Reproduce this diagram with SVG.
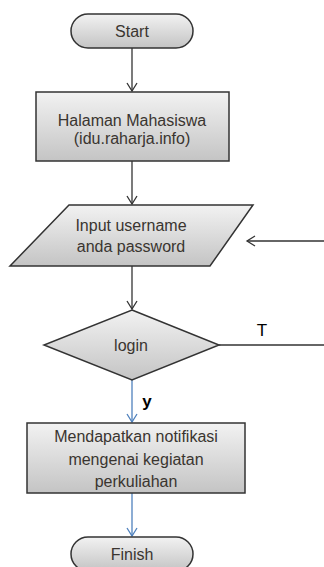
<svg xmlns="http://www.w3.org/2000/svg" width="324" height="567" viewBox="0 0 324 567">
<defs>
<linearGradient id="g" x1="0" y1="0" x2="0" y2="1">
<stop offset="0" stop-color="#f2f2f2"/>
<stop offset="1" stop-color="#c4c4c4"/>
</linearGradient>
<marker id="a" markerWidth="12" markerHeight="12" refX="10" refY="6" orient="auto" markerUnits="userSpaceOnUse" viewBox="0 0 12 12">
<path d="M2,1 L10,6 L2,11" fill="none" stroke="#333" stroke-width="1.3"/>
</marker>
<marker id="ab" markerWidth="12" markerHeight="12" refX="10" refY="6" orient="auto" markerUnits="userSpaceOnUse" viewBox="0 0 12 12">
<path d="M2,1 L10,6 L2,11" fill="none" stroke="#4f81bd" stroke-width="1.3"/>
</marker>
</defs>
<style>
.s{fill:url(#g);stroke:#333;stroke-width:1.5}
.t{font-family:"Liberation Sans",Arial,sans-serif;font-size:16px;fill:#3a3530;text-anchor:middle}
.l{fill:none;stroke:#333;stroke-width:1.3}
.b{fill:none;stroke:#4f81bd;stroke-width:1.3}
</style>
<g id="connectors">
<line class="l" x1="132" y1="48" x2="132" y2="91" marker-end="url(#a)"/>
<line class="l" x1="132" y1="161" x2="132" y2="204" marker-end="url(#a)"/>
<line class="l" x1="132" y1="266" x2="132" y2="309" marker-end="url(#a)"/>
<line class="l" x1="324" y1="241" x2="247" y2="241" marker-end="url(#a)"/>
<line class="l" x1="219" y1="345" x2="324" y2="345"/>
<line class="b" x1="132" y1="380" x2="132" y2="422" marker-end="url(#ab)"/>
<line class="b" x1="132" y1="493" x2="132" y2="536" marker-end="url(#ab)"/>
<text class="t" x="262" y="336" style="font-size:17px;fill:#000">T</text>
<text class="t" x="147" y="407" style="font-size:17px;font-weight:bold;fill:#000">y</text>
</g>
<g id="start">
<rect class="s" x="71" y="14" width="122" height="34" rx="17"/>
<text class="t" x="132" y="37">Start</text>
</g>
<g id="halaman">
<rect class="s" x="36" y="92" width="193" height="69"/>
<text class="t" x="132" y="126">Halaman Mahasiswa</text>
<text class="t" x="132" y="144">(idu.raharja.info)</text>
</g>
<g id="input">
<polygon class="s" points="69,205 253,205 210,266 10,266"/>
<text class="t" x="131" y="231">Input username</text>
<text class="t" x="131" y="252">anda password</text>
</g>
<g id="login">
<polygon class="s" points="132,310 219,345 132,380 44,345"/>
<text class="t" x="131" y="351">login</text>
</g>
<g id="notifikasi">
<rect class="s" x="27" y="423" width="218" height="70"/>
<text class="t" x="136" y="442">Mendapatkan notifikasi</text>
<text class="t" x="136" y="465">mengenai kegiatan</text>
<text class="t" x="136" y="487">perkuliahan</text>
</g>
<g id="finish">
<rect class="s" x="71" y="537" width="122" height="34" rx="17"/>
<text class="t" x="132" y="560">Finish</text>
</g>
</svg>
